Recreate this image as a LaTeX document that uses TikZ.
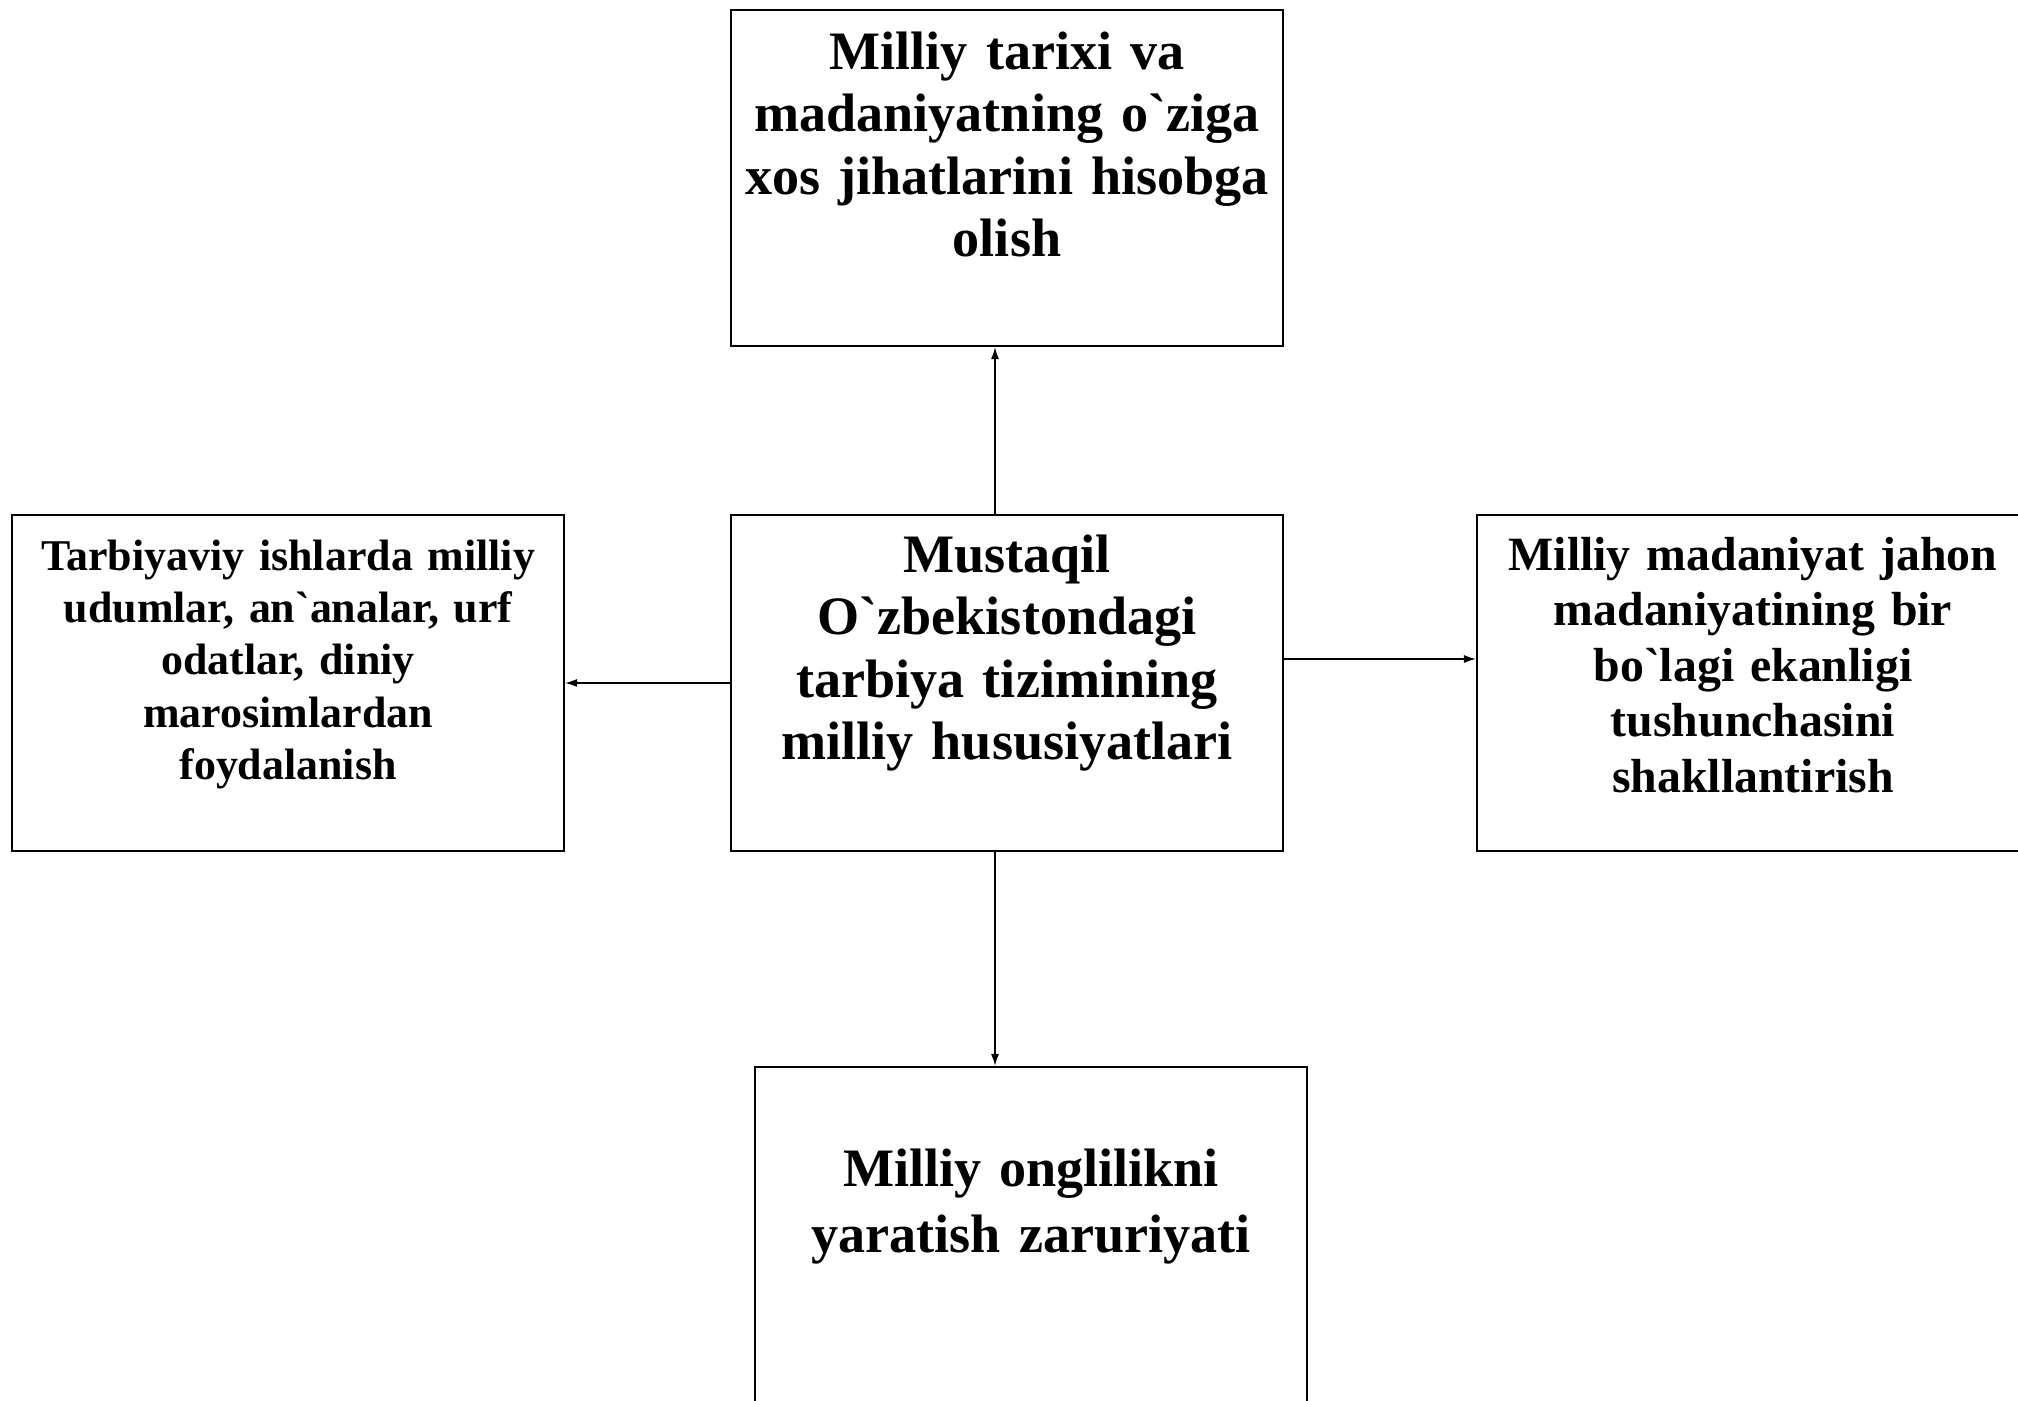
\documentclass[tikz,border=0pt]{standalone}
\usepackage{fontspec}
\setmainfont{Liberation Serif}
\usetikzlibrary{positioning,arrows.meta}

\begin{document}
\begin{tikzpicture}[font=\bfseries, node distance = 1.7 cm,
	block/.style = { rectangle, draw=black, line width=0.55pt, fill=white,
	minimum width=5.52cm, minimum height=3.36cm, inner sep=0pt},
	lbl/.style = { text width=5.5cm, align=center, inner sep=0pt },
	big/.style = { font=\bfseries\fontsize{15.4}{17.8}\selectfont },
	mid/.style = { font=\bfseries\fontsize{13.6}{15.8}\selectfont },
	small/.style = { font=\bfseries\fontsize{12.5}{14.9}\selectfont },
	link/.style = { line width=0.45pt, -{Latex[length=1.2mm,width=0.8mm]} } ]

  \useasboundingbox (0,0) rectangle (20.18,14);

  \node [name=main, block] at (10.07,7.17) {};
  \node [name=history, block, above=1.67cm of main] {};
  \node [name=customs, block, left=1.65cm of main] {};
  \node [name=world, block, right=1.92cm of main] {};
  \node [name=awareness, block, minimum height=3.5cm,
	below=2.14cm of main, xshift=0.24cm] {};

  \node [name=mainlbl, lbl, big, below=0.58cm of main.north, anchor=base]
	{Mustaqil\\ O\textasciigrave zbekistondagi\\ tarbiya tizimining\\ milliy hususiyatlari};
  \node [name=historylbl, lbl, big, below=0.60cm of history.north, anchor=base]
	{Milliy tarixi va\\ madaniyatning o\textasciigrave ziga\\ xos jihatlarini hisobga\\ olish};
  \node [name=customslbl, lbl, small, below=0.56cm of customs.north, anchor=base]
	{Tarbiyaviy ishlarda milliy\\ udumlar, an\textasciigrave analar, urf\\ odatlar, diniy\\ marosimlardan\\ foydalanish};
  \node [name=worldlbl, lbl, mid, below=0.56cm of world.north, anchor=base]
	{Milliy madaniyat jahon\\ madaniyatining bir\\ bo\textasciigrave lagi ekanligi\\ tushunchasini\\ shakllantirish};
  \node [name=awarenesslbl, lbl, big, font=\bfseries\fontsize{15.4}{18.7}\selectfont,
	below=1.21cm of awareness.north, anchor=base]
	{Milliy onglilikni\\ yaratish zaruriyati};

  \draw [link] ([xshift=-0.12cm]main.north) -- ([xshift=-0.12cm]main.north |- history.south);
  \draw [link] (main.west) -- (customs.east);
  \draw [link] ([yshift=0.24cm]main.east) -- ([yshift=0.24cm]main.east -| world.west);
  \draw [link] ([xshift=-0.12cm]main.south) -- ([xshift=-0.12cm]main.south |- awareness.north);
\end{tikzpicture}
\end{document}
